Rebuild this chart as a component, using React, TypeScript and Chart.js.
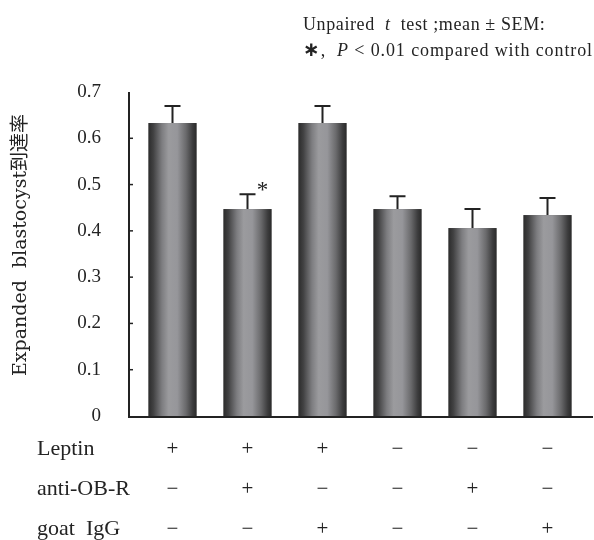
import React, { useEffect, useRef } from "react";
import { Chart, registerables } from "chart.js";

Chart.register(...registerables);

const groups = ["G1", "G2", "G3", "G4", "G5", "G6"];
const values = [0.633, 0.447, 0.633, 0.447, 0.406, 0.434];
const sem = [0.037, 0.032, 0.037, 0.028, 0.041, 0.037];
const significant = [false, true, false, false, false, false];
const yTicks = [0, 0.1, 0.2, 0.3, 0.4, 0.5, 0.6, 0.7];
const rowLabels = ["Leptin", "anti-OB-R", "goat  IgG"];
const leptin = ["+", "+", "+", "−", "−", "−"];
const antiOBR = ["−", "+", "−", "−", "+", "−"];
const goatIgG = ["−", "−", "+", "−", "−", "+"];
const yTitle = "Expanded  blastocyst到達率";

const INK = "#232323";
const SERIF = "'Liberation Serif', 'Noto Sans CJK JP', serif";

const customPlugin = {
  id: "custom",
  afterDatasetsDraw(chart: any) {
    const ctx = chart.ctx;
    const meta = chart.getDatasetMeta(0);
    const yScale = chart.scales.y;
    ctx.save();
    meta.data.forEach((el: any, i: number) => {
      const { x, y, base, width } = el.getProps(["x", "y", "base", "width"], true);
      const l = x - width / 2;
      const g = ctx.createLinearGradient(l, 0, l + width, 0);
      g.addColorStop(0, "#2c2c2c");
      g.addColorStop(0.1, "#414142");
      g.addColorStop(0.28, "#7d7d80");
      g.addColorStop(0.42, "#9b9b9e");
      g.addColorStop(0.6, "#96969a");
      g.addColorStop(0.78, "#6a6a6c");
      g.addColorStop(0.92, "#3c3c3d");
      g.addColorStop(1, "#2a2a2a");
      ctx.fillStyle = g;
      ctx.fillRect(l, y, width, base - y);
      const top = yScale.getPixelForValue(values[i] + sem[i]);
      ctx.strokeStyle = INK;
      ctx.lineWidth = 2;
      ctx.beginPath();
      ctx.moveTo(x, y);
      ctx.lineTo(x, top);
      ctx.moveTo(x - 8, top);
      ctx.lineTo(x + 8, top);
      ctx.stroke();
      if (significant[i]) {
        ctx.fillStyle = INK;
        ctx.font = "23px " + SERIF;
        ctx.textAlign = "center";
        ctx.textBaseline = "middle";
        ctx.fillText("*", x + 15, top - 3);
      }
    });
    ctx.restore();
  },
  afterDraw(chart: any) {
    const ctx = chart.ctx;
    const area = chart.chartArea;
    const xScale = chart.scales.x;
    const yScale = chart.scales.y;
    const axisX = area.left - 6;
    const y0 = yScale.getPixelForValue(0);
    const yTop = yScale.getPixelForValue(0.7);
    ctx.save();
    ctx.strokeStyle = INK;
    ctx.lineWidth = 2;
    ctx.beginPath();
    ctx.moveTo(axisX, yTop);
    ctx.lineTo(axisX, y0 + 1);
    ctx.lineTo(area.right + 8, y0 + 1);
    ctx.stroke();
    ctx.lineWidth = 1.5;
    yTicks.forEach((t) => {
      if (t === 0 || t === 0.7) return;
      const py = yScale.getPixelForValue(t);
      ctx.beginPath();
      ctx.moveTo(axisX, py);
      ctx.lineTo(axisX + 4, py);
      ctx.stroke();
    });

    // y title
    ctx.fillStyle = INK;
    ctx.save();
    ctx.translate(21, 245);
    ctx.rotate(-Math.PI / 2);
    ctx.font = "19px 'DejaVu Serif', 'Noto Sans CJK JP', serif";
    ctx.textAlign = "center";
    ctx.textBaseline = "middle";
    ctx.fillText(yTitle, 0, 0);
    ctx.restore();

    // table
    const rows = [leptin, antiOBR, goatIgG];
    const rowY = [449, 489, 529];
    rows.forEach((row, r) => {
      ctx.textBaseline = "middle";
      ctx.textAlign = "left";
      ctx.font = "22px " + SERIF;
      ctx.fillText(rowLabels[r], 37, rowY[r]);
      ctx.textAlign = "center";
      ctx.font = "21px " + SERIF;
      row.forEach((s, i) => {
        ctx.fillText(s, xScale.getPixelForValue(i), rowY[r]);
      });
    });

    // note text
    ctx.textAlign = "left";
    ctx.textBaseline = "alphabetic";
    const measureRuns = (runs: [string, string][]) => {
      let w = 0;
      runs.forEach(([t, f]) => {
        ctx.font = f;
        w += ctx.measureText(t).width;
      });
      return w;
    };
    const drawRuns = (runs: [string, string][], x: number, y: number) => {
      let cx = x;
      runs.forEach(([t, f]) => {
        ctx.font = f;
        ctx.fillText(t, cx, y);
        cx += ctx.measureText(t).width;
      });
    };
    const n = "18px " + SERIF;
    const it = "italic 18px " + SERIF;
    (ctx as any).letterSpacing = "0.6px";
    drawRuns(
      [
        ["Unpaired  ", n],
        ["t", it],
        ["  test ;mean ± SEM:", n],
      ],
      303,
      30
    );
    const runs2: [string, string][] = [
      ["∗", "bold 20px 'DejaVu Sans', sans-serif"],
      [",  ", n],
      ["P", it],
      [" < 0.01 compared with control", n],
    ];
    (ctx as any).letterSpacing = "0.9px";
    const w2 = measureRuns(runs2);
    drawRuns(runs2, 593 - w2, 56);
    (ctx as any).letterSpacing = "0px";
    ctx.restore();
  },
};

export default function App() {
  const ref = useRef<HTMLCanvasElement | null>(null);
  useEffect(() => {
    if (!ref.current) return;
    const chart = new Chart(ref.current, {
      type: "bar",
      data: {
        labels: groups,
        datasets: [
          {
            data: values,
            backgroundColor: "#777777",
            borderWidth: 0,
            barPercentage: 0.64,
            categoryPercentage: 1,
          },
        ],
      },
      options: {
        responsive: false,
        animation: false,
        layout: { padding: { top: 92, right: 9, left: 0, bottom: 0 } },
        plugins: { legend: { display: false }, tooltip: { enabled: false } },
        scales: {
          x: {
            display: true,
            ticks: { display: false },
            grid: { display: false },
            border: { display: false },
            afterFit: (s: any) => {
              s.height = 124;
            },
          },
          y: {
            min: 0,
            max: 0.7,
            ticks: {
              stepSize: 0.1,
              padding: 34,
              color: INK,
              font: { family: SERIF, size: 19 },
              callback: (v: any) => (v === 0 ? "0" : Number(v).toFixed(1)),
            },
            grid: { display: false, drawTicks: false },
            border: { display: false },
            afterFit: (s: any) => {
              s.width = 135;
            },
          },
        },
      },
      plugins: [customPlugin],
    });
    return () => chart.destroy();
  }, []);
  return (
    <div
      style={{
        position: "fixed",
        left: 0,
        top: 0,
        width: 594,
        height: 540,
        background: "#fff",
      }}
    >
      <canvas ref={ref} width={594} height={540} />
    </div>
  );
}
